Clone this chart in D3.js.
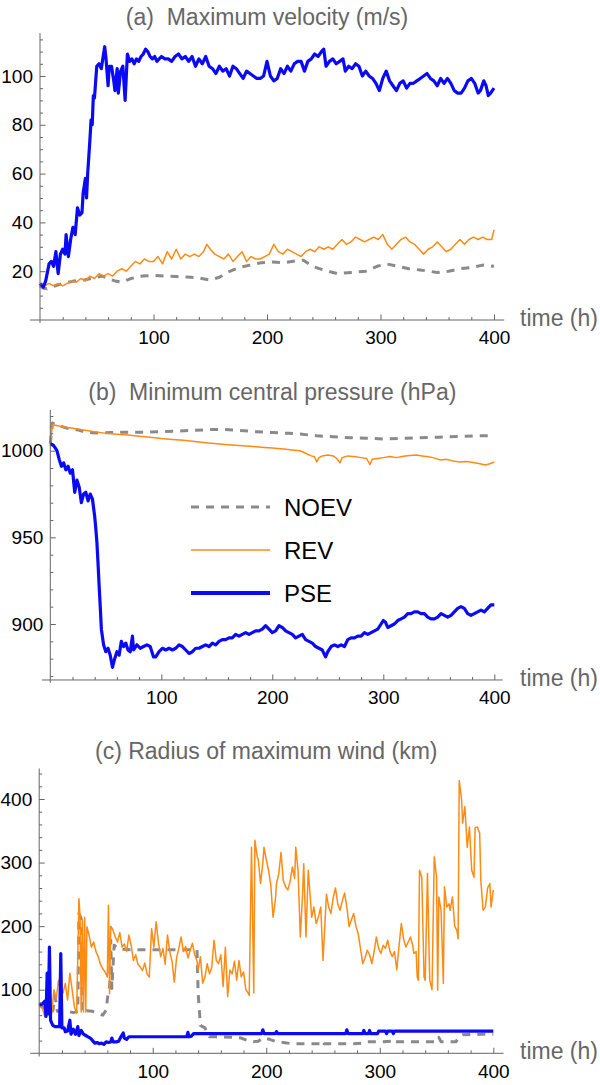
<!DOCTYPE html>
<html>
<head>
<meta charset="utf-8">
<script src="https://cdn.jsdelivr.net/npm/d3@7"></script>
<style>
  body { margin: 0; background: #fff; }
  text { font-family: "Liberation Sans", Arial, sans-serif; }
</style>
</head>
<body>
<div id="chart-area"></div>
<script>
// series names and legend labels
const seriesNames = ["NOEV", "REV", "PSE"]

// tick values
const xMajor = [100, 200, 300, 400]
const xMinor = [20, 40, 60, 80, 120, 140, 160, 180, 220, 240, 260, 280, 320, 340, 360, 380]
const velMajor = [20, 40, 60, 80, 100]
const presMajor = [900, 950, 1000]
const rmwMajor = [100, 200, 300, 400]

// (a) maximum velocity, [time h, m/s]
const velNOEV = [[0,14],[3,13],[6,12.8],[10,13.5],[20,15],[30,16],[40,16.5],[50,17.5],[55,18],[60,17],[66,16],[72,15.5],[80,17],[90,18],[100,18.3],[110,18],[120,17.8],[130,17.6],[140,17.2],[150,16.4],[158,17.5],[165,19.5],[175,21.5],[185,22.5],[195,23.5],[205,23.8],[215,23.5],[225,24.2],[232,24.5],[240,22],[250,20.5],[262,19],[275,19.5],[287,20],[297,22],[305,23],[315,22],[325,21],[335,20.5],[350,19.5],[360,20],[370,21],[380,21.5],[390,22.5],[400,22]]
const velREV = [[0,14],[4,14],[8,15],[12,14],[16,15],[20,14],[24,15],[28,16],[32,15.5],[36,17],[40,16],[44,18],[48,17],[52,19],[56,18],[60,19],[64,18],[68,20],[72,21],[76,20],[80,22],[84,24],[88,23],[92,25],[96,24],[100,24],[104,26],[108,23],[112,28],[116,25],[120,29],[124,25],[128,27],[132,26],[136,27],[140,26],[144,28],[147,31],[150,29],[154,27],[158,26],[162,25],[166,27],[170,24],[174,26],[178,28],[182,24],[186,26],[190,25],[194,25],[198,26],[202,27],[206,31],[210,28],[214,27],[218,29],[222,28],[226,27],[230,26],[234,28],[238,29],[242,28],[246,30],[250,29],[254,30],[258,29],[262,31],[266,33],[270,31],[274,32],[278,34],[282,33],[286,32],[290,33],[294,34],[298,33],[302,35],[306,31],[310,29],[314,31],[318,33],[322,34],[326,32],[330,31],[334,29],[338,27],[342,29],[346,30],[350,32],[354,30],[358,28],[362,29],[366,31],[370,33],[374,31],[378,33],[382,34],[386,33],[390,34],[394,33],[398,33],[400,37]]
const velPSE = [[0,15],[3,13.5],[5,16],[8,23],[10,24],[12,22],[14,28],[16,19],[18,27],[20,29],[22,27],[23,35],[25,26],[27,33],[29,38],[31,35],[33,46],[35,43],[37,44],[38,52],[40,58],[41,50],[42,60],[43,67],[44,74],[45,82],[46,80],[47,92],[48,91],[50,104],[52,105],[54,103],[55,106],[57,112],[58,108],[60,96],[61,104],[63,104],[65,98],[66,94],[68,103],[69,93],[71,102],[73,104],[75,90],[77,109],[79,106],[81,107],[83,105],[85,107],[87,106],[89,108],[91,109],[93,111],[95,110],[97,108],[99,107],[101,108],[103,106],[105,107],[107,108],[110,107],[113,107],[116,106],[119,108],[122,109],[125,107],[128,108],[131,106],[134,108],[137,104],[140,107],[143,105],[146,108],[149,104],[152,103],[155,101],[158,104],[161,102],[164,103],[167,100],[170,104],[173,103],[176,101],[179,99],[182,102],[185,101],[188,100],[191,99],[194,99],[197,100],[200,106],[203,100],[206,98],[209,99],[212,103],[215,101],[218,104],[221,102],[224,105],[227,106],[230,106],[233,102],[236,106],[239,107],[242,109],[245,108],[248,110],[250,111],[252,104],[255,106],[258,107],[261,105],[264,106],[267,107],[269,102],[272,104],[275,103],[278,105],[281,104],[284,100],[287,102],[290,100],[293,99],[296,97],[299,94],[302,99],[305,102],[308,98],[311,96],[314,94],[317,97],[320,98],[323,95],[326,97],[329,97],[332,98],[335,99],[338,100],[341,101],[344,99],[347,98],[350,96],[353,99],[356,97],[359,99],[362,97],[365,94],[368,93],[371,93],[374,95],[377,98],[380,99],[383,97],[386,93],[388,94],[391,98],[393,96],[395,92],[397,93],[400,95]]

// (b) minimum central pressure, [time h, hPa]
const presNOEV = [[0,1004],[2,1016],[5,1015],[10,1014],[15,1013],[20,1012.5],[25,1012],[30,1011],[38,1010.3],[45,1010.2],[55,1010.5],[70,1010.7],[85,1010.6],[100,1011],[115,1011.3],[130,1011.8],[145,1012.2],[155,1012.3],[170,1011.7],[185,1011],[200,1010.5],[215,1010],[225,1009.6],[240,1008.6],[255,1008],[270,1007.5],[285,1007.2],[300,1006.8],[315,1007],[330,1007.4],[350,1007.8],[370,1008.3],[385,1008.6],[400,1008.6]]
const presREV = [[0,1004],[2,1015],[10,1014],[20,1013],[30,1012],[40,1011],[50,1010],[60,1009.5],[70,1009],[80,1008.3],[90,1007.7],[100,1007],[110,1006.5],[120,1006],[130,1005.3],[140,1004.6],[150,1004],[160,1003.5],[170,1003],[180,1002.6],[190,1002],[200,1001.5],[210,1001],[220,1000.3],[225,1000],[230,998.5],[235,997],[238,996.5],[240,993.5],[242,996],[245,997],[250,997.5],[255,997],[258,995.5],[261,993],[263,996],[268,997],[275,996.5],[280,996],[285,995.5],[288,992],[290,995],[295,995.5],[300,996],[306,996.6],[312,996],[318,996.8],[324,997.2],[330,997.5],[335,997],[339,996.6],[345,996],[351,994.7],[357,995],[363,994],[369,993.5],[375,993.8],[381,993.2],[387,992.5],[392,991.8],[396,992.5],[400,993.5]]
const presPSE = [[0,1004],[3,1003],[6,1000],[8,995],[10,991],[12,993],[14,989],[16,991],[18,987],[20,989],[22,976],[24,983],[26,979],[28,970],[30,975],[32,976],[34,971],[36,975],[38,972],[40,962],[41,955],[42,947],[43,935],[44,922],[45,910],[46,897],[48,888],[50,884],[52,886],[54,882],[56,875],[58,880],[60,884],[62,882],[64,890],[66,887],[68,889],[70,885],[72,884],[74,893],[75,885],[78,888],[81,886],[84,887],[87,888],[90,887],[93,881],[95,881],[98,884],[101,886],[104,885],[107,886],[110,885],[113,886],[116,888],[119,887],[122,885],[125,883],[128,884],[131,886],[134,886],[137,887],[140,888],[143,887],[146,889],[149,888],[152,890],[155,891],[158,891],[161,892],[164,892],[167,894],[170,893],[173,894],[176,895],[179,894],[182,895],[185,896],[188,896],[191,897],[194,899],[197,897],[200,895],[203,896],[206,899],[209,898],[212,896],[215,895],[218,894],[221,892],[224,893],[227,894],[230,891],[233,890],[236,889],[239,887],[242,886],[245,885],[248,881],[250,884],[253,887],[256,888],[259,887],[262,888],[265,887],[268,891],[271,892],[274,892],[277,893],[280,893],[283,895],[286,894],[289,895],[292,896],[295,897],[298,900],[300,902],[302,901],[304,898],[307,899],[310,900],[313,902],[316,903],[319,904],[322,906],[325,906],[328,907],[331,907],[334,906],[337,906],[340,904],[343,903],[346,903],[349,904],[352,906],[355,905],[358,904],[361,905],[364,907],[367,909],[370,910],[373,909],[376,906],[379,905],[382,906],[385,907],[388,908],[391,907],[394,909],[397,911],[400,911]]

// (c) radius of maximum wind, [time h, km]
const rmwNOEV = [[0,78],[4,72],[8,65],[12,67],[14,90],[16,66],[20,65],[25,66],[30,64],[34,66],[35,220],[37,212],[38,64],[42,67],[47,66],[52,62],[56,60],[59,68],[61,100],[62,104],[63,178],[64,102],[66,170],[70,164],[80,163],[100,163],[120,163],[139,163],[140,95],[142,44],[146,40],[150,26],[160,26],[171,25],[178,24],[186,18],[193,19],[197,24],[203,22],[209,18],[215,17],[223,15],[236,15],[247,15],[249,20],[251,15],[261,15],[275,15],[286,16],[288,18],[299,18],[310,19],[312,22],[314,18],[323,18],[338,18],[350,18],[352,25],[354,18],[367,18],[370,26],[373,29],[390,30],[400,30]]
const rmwREV = [[0,75],[3,70],[5,57],[7,84],[9,70],[11,62],[13,100],[15,85],[17,115],[19,99],[21,95],[23,110],[25,84],[27,126],[29,100],[31,73],[33,63],[35,243],[36,215],[37,65],[38,209],[39,65],[40,214],[41,65],[42,199],[44,185],[46,167],[48,175],[50,160],[52,152],[54,140],[56,133],[58,128],[60,120],[61,233],[62,94],[63,200],[65,194],[67,183],[69,175],[71,190],[73,167],[75,172],[77,160],[79,186],[81,170],[83,146],[85,155],[87,140],[89,136],[91,130],[93,142],[95,125],[97,120],[99,196],[101,167],[103,207],[105,175],[107,152],[109,165],[111,140],[113,186],[115,160],[117,145],[119,112],[121,150],[123,165],[125,183],[127,160],[129,168],[131,150],[133,162],[135,173],[137,155],[139,145],[140,131],[142,152],[144,110],[146,120],[148,141],[150,125],[152,135],[154,178],[156,146],[158,141],[160,155],[162,105],[164,167],[166,89],[168,131],[170,125],[172,145],[174,115],[176,146],[178,120],[180,128],[182,100],[184,95],[185,91],[187,324],[189,95],[190,335],[192,310],[193,304],[195,267],[197,300],[198,324],[200,305],[202,288],[204,265],[206,214],[208,240],[209,267],[211,282],[213,316],[215,272],[217,262],[219,257],[221,270],[223,293],[225,275],[226,324],[228,288],[230,183],[232,250],[233,298],[235,183],[237,288],[239,240],[240,214],[242,230],[244,204],[246,215],[248,230],[250,146],[252,215],[253,250],[255,230],[257,220],[259,245],[261,260],[263,235],[265,225],[267,240],[269,252],[271,230],[273,199],[275,210],[277,220],[279,200],[281,188],[283,165],[285,141],[287,150],[289,162],[291,155],[293,141],[295,160],[297,183],[299,165],[301,157],[303,170],[305,165],[307,178],[309,160],[311,152],[313,160],[315,131],[317,170],[319,204],[321,180],[323,167],[325,175],[327,183],[329,170],[330,157],[332,160],[333,120],[334,115],[335,288],[337,277],[339,120],[340,115],[342,283],[344,115],[346,100],[348,309],[350,277],[351,99],[352,246],[354,225],[356,110],[357,262],[359,230],[361,235],[362,225],[364,246],[366,200],[368,193],[369,180],[370,429],[372,400],[373,362],[375,388],[377,324],[379,356],[381,288],[383,277],[384,355],[386,356],[388,346],[389,272],[391,225],[393,230],[395,260],[397,267],[398,230],[400,257]]
const rmwPSE = [[0,76],[2,77],[4,80],[5,82],[6,58],[7,126],[8,62],[9,167],[10,52],[11,48],[12,44],[14,42],[16,42],[18,42],[19,157],[20,40],[22,40],[23,34],[25,35],[27,52],[28,30],[30,38],[32,30],[34,42],[35,28],[37,36],[39,30],[41,28],[43,26],[45,24],[47,20],[49,16],[51,17],[53,15],[55,16],[57,14],[59,18],[61,17],[63,18],[64,24],[65,18],[68,18],[70,19],[72,26],[74,32],[75,24],[77,22],[79,26],[82,26],[90,26],[100,26],[110,26],[120,26],[128,26],[130,26],[131,33],[132,26],[134,27],[136,31],[150,31],[170,31],[196,31],[197,37],[198,31],[208,31],[209,34],[210,31],[240,31],[270,31],[271,37],[272,31],[285,31],[286,36],[287,31],[290,31],[291,36],[292,31],[298,31],[299,35],[305,35],[306,31],[307,35],[311,35],[312,31],[313,35],[330,35],[360,35],[400,35]]

const STYLE = {
  NOEV: { color: "#8a8a8a", width: 3, dash: "8,7" },
  REV:  { color: "#ff8a14", width: 1.5, dash: null },
  PSE:  { color: "#0a0af5", width: 3.2, dash: null }
}
const AXIS_COLOR = "#666"
const LABEL_COLOR = "#666"

const svg = d3.select("#chart-area").append("svg")
  .attr("width", 600)
  .attr("height", 1085)

const panels = [
  {
    title: "(a)  Maximum velocity (m/s)", titleY: 25,
    xRange: [40, 494], yDomain: [0, 100], yRange: [320, 76],
    yAxisExtent: [-1.2, 117.6], xAxisAt: 0, xAxisExtent: [-9, 409],
    yMajor: velMajor, yMinor: d3.range(5, 116, 5).filter(v => v % 20 !== 0),
    data: [velNOEV, velREV, velPSE]
  },
  {
    title: "(b)  Minimum central pressure (hPa)", titleY: 400,
    xRange: [50.3, 494.3], yDomain: [900, 1000], yRange: [624, 450.7],
    yAxisExtent: [866, 1023.5], xAxisAt: 867.7, xAxisExtent: [-7.5, 407.5],
    yMajor: presMajor, yMinor: d3.range(870, 1021, 10).filter(v => v % 50 !== 0),
    data: [presNOEV, presREV, presPSE],
    legend: true
  },
  {
    title: "(c) Radius of maximum wind (km)", titleY: 759,
    xRange: [39.2, 493.3], yDomain: [0, 400], yRange: [1053.3, 799],
    yAxisExtent: [-5, 448], xAxisAt: 0, xAxisExtent: [-8, 409],
    yMajor: rmwMajor, yMinor: d3.range(20, 441, 20).filter(v => v % 100 !== 0),
    data: [rmwNOEV, rmwREV, rmwPSE]
  }
]

panels.forEach(drawPanel)

function drawPanel(p) {
  const x = d3.scaleLinear().domain([0, 400]).range(p.xRange)
  const y = d3.scaleLinear().domain(p.yDomain).range(p.yRange)
  const g = svg.append("g")
  const axisY = y(p.xAxisAt)
  const x0 = x(0)
  const fmt = d3.format("d")

  // title (keep the double space)
  g.append("text")
    .attr("x", (p.xRange[0] + p.xRange[1]) / 2)
    .attr("y", p.titleY)
    .attr("text-anchor", "middle")
    .attr("font-size", "23px")
    .attr("fill", LABEL_COLOR)
    .style("white-space", "pre")
    .text(p.title)

  // series lines
  const line = d3.line()
    .x(d => x(d[0]))
    .y(d => y(d[1]))
  p.data.forEach((series, i) => {
    const s = STYLE[seriesNames[i]]
    g.append("path")
      .attr("fill", "none")
      .attr("stroke", s.color)
      .attr("stroke-width", s.width)
      .attr("stroke-dasharray", s.dash)
      .attr("stroke-linejoin", "round")
      .attr("d", line(series))
  })

  // axis lines
  g.append("line")
    .attr("x1", x(p.xAxisExtent[0])).attr("x2", x(p.xAxisExtent[1]))
    .attr("y1", axisY).attr("y2", axisY)
    .attr("stroke", AXIS_COLOR).attr("stroke-width", 1)
  g.append("line")
    .attr("x1", x0).attr("x2", x0)
    .attr("y1", y(p.yAxisExtent[0])).attr("y2", y(p.yAxisExtent[1]))
    .attr("stroke", AXIS_COLOR).attr("stroke-width", 1)

  // x ticks (pointing up) and labels
  const xTicks = (vals, size) => g.append("g")
    .attr("transform", `translate(0, ${axisY})`)
    .call(d3.axisTop(x).tickValues(vals).tickSize(size).tickFormat(""))
  xTicks(xMinor, 3)
  xTicks(xMajor, 5.5)
  g.append("g")
    .attr("transform", `translate(0, ${axisY})`)
    .call(d3.axisBottom(x).tickValues(xMajor).tickSize(0).tickPadding(11).tickFormat(fmt))
    .attr("font-size", "19px")

  // y ticks (pointing right) and labels
  const yTicks = (vals, size) => g.append("g")
    .attr("transform", `translate(${x0}, 0)`)
    .call(d3.axisRight(y).tickValues(vals).tickSize(size).tickFormat(""))
  yTicks(p.yMinor, 3)
  yTicks(p.yMajor, 5.5)
  g.append("g")
    .attr("transform", `translate(${x0}, 0)`)
    .call(d3.axisLeft(y).tickValues(p.yMajor).tickSize(0).tickPadding(7).tickFormat(fmt))
    .attr("font-size", "19px")

  g.selectAll(".domain").remove()
  g.selectAll(".tick line").attr("stroke", AXIS_COLOR)
  g.selectAll(".tick text").attr("fill", "#000").attr("font-family", "Liberation Sans, Arial, sans-serif")

  // axis label
  g.append("text")
    .attr("x", 520)
    .attr("y", axisY + 6)
    .attr("font-size", "23px")
    .attr("fill", LABEL_COLOR)
    .text("time (h)")

  if (p.legend) drawLegend(g)
}

function drawLegend(g) {
  const rowY = d3.scalePoint().domain(seriesNames).range([507, 593])
  seriesNames.forEach(name => {
    const s = STYLE[name]
    g.append("line")
      .attr("x1", 191).attr("x2", 270)
      .attr("y1", rowY(name)).attr("y2", rowY(name))
      .attr("stroke", s.color)
      .attr("stroke-width", name === "PSE" ? 4 : s.width)
      .attr("stroke-dasharray", s.dash)
    g.append("text")
      .attr("x", 284)
      .attr("y", rowY(name) + 8.5)
      .attr("font-size", "24px")
      .attr("fill", "#000")
      .text(name)
  })
}
</script>
</body>
</html>
